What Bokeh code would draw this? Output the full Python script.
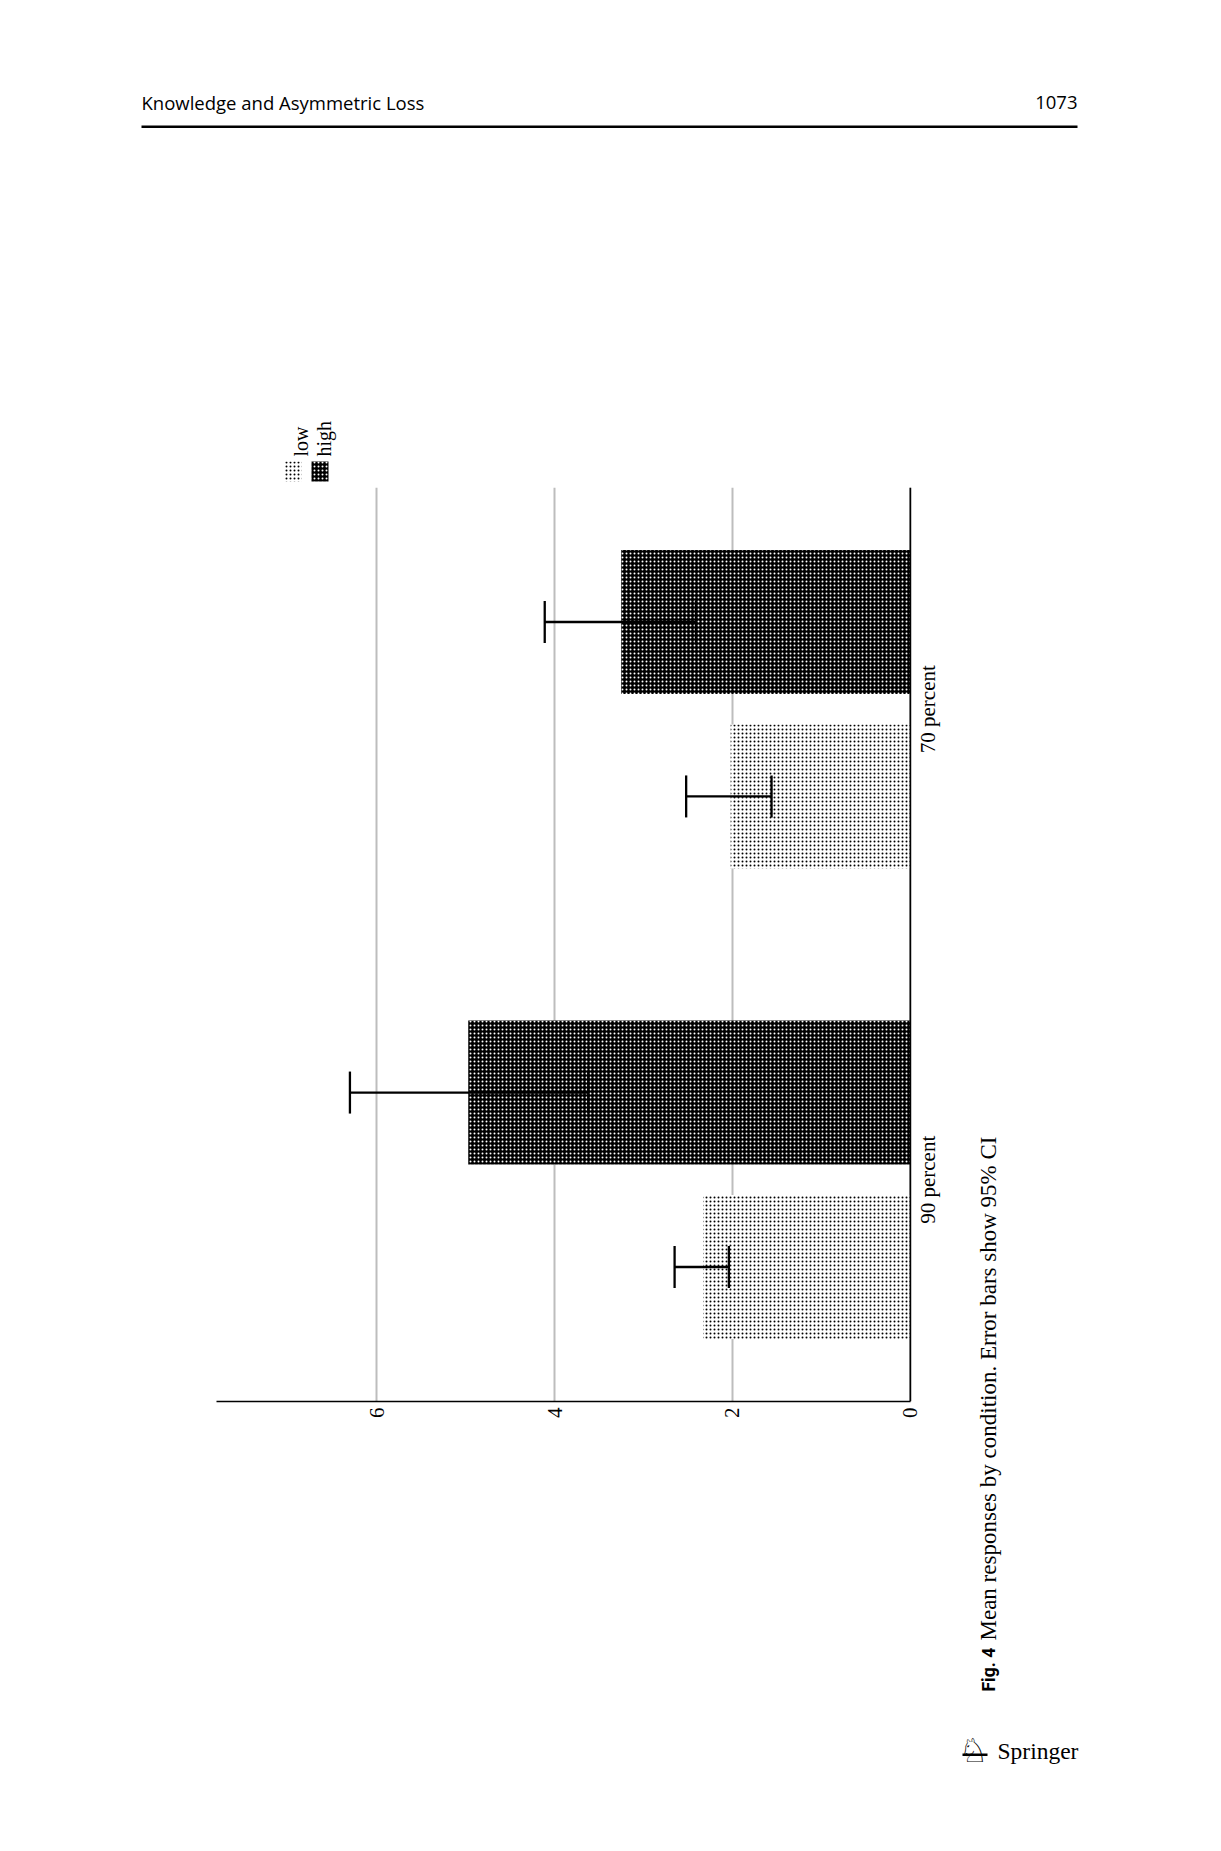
import math
from bokeh.plotting import figure
from bokeh.layouts import column, row
from bokeh.models import (ColumnDataSource, FactorRange, Range1d, FixedTicker, Whisker,
                          TeeHead, Label, LabelSet, BoxAnnotation, Span)
from bokeh.transform import dodge
from bokeh.embed import file_html
from bokeh.resources import INLINE

# ---- data ----
groups = ["90 percent", "70 percent"]
conditions = ["low", "high"]
low_mean = [2.33, 2.02]
high_mean = [4.97, 3.25]
low_lower = [2.04, 1.56]
low_upper = [2.65, 2.52]
high_lower = [3.62, 2.41]
high_upper = [6.30, 4.11]
value_ticks = [0, 2, 4, 6]
value_max = 7.80
header_title = "Knowledge and Asymmetric Loss"
page_number = "1073"
caption_label = "Fig. 4"
caption_text = "Mean responses by condition. Error bars show 95% CI"
publisher = "Springer"

src = ColumnDataSource(dict(group=groups, low=low_mean, high=high_mean,
                            low_lower=low_lower, low_upper=low_upper,
                            high_lower=high_lower, high_upper=high_upper))

SERIF = "Liberation Serif"
OFF = 0.2195
BAR_H = 0.3625


def deco_figure(x0, x1, y0, y1):
    """A blank figure whose data coordinates are page pixels."""
    f = figure(width=x1 - x0, height=y1 - y0, x_range=Range1d(x0, x1),
               y_range=Range1d(y1, y0), x_axis_location=None, y_axis_location=None,
               output_backend="svg", toolbar_location=None, min_border=0)
    f.outline_line_color = None
    f.grid.visible = False
    f.background_fill_color = "white"
    f.border_fill_color = "white"
    return f


def label(f, x, y, text, **kw):
    base = dict(text_align="left", text_baseline="alphabetic", text_color="black")
    base.update(kw)
    f.add_layout(Label(x=x, y=y, text=text, **base))


def box(f, left, right, top, bottom, **kw):
    f.add_layout(BoxAnnotation(left=left, right=right, top=top, bottom=bottom,
                               fill_alpha=1, line_color=None, **kw))


# ---------- top strip: running head + legend ----------
top = deco_figure(8, 1213, 8, 495)
label(top, 149, 110, header_title, text_font="Open Sans", text_font_size="18.5px")
label(top, 1085, 110, page_number, text_font="Open Sans", text_font_size="18.5px",
      text_align="right")
box(top, 149, 1085, 133, 135.5, fill_color="black")

box(top, 292, 309, 469, 489, fill_color="white", hatch_pattern="dot", hatch_color="black",
    hatch_scale=4, hatch_weight=1)
box(top, 319, 336, 469, 489, fill_color="black", hatch_pattern="dot", hatch_color="white",
    hatch_scale=4, hatch_weight=1)
label(top, 308, 464, conditions[0], angle=math.pi / 2, text_font=SERIF,
      text_font_size="20px")
label(top, 331, 464, conditions[1], angle=math.pi / 2, text_font=SERIF,
      text_font_size="20px")

# ---------- chart ----------
p = figure(width=952, height=1348,
           x_range=Range1d(value_max, -0.418),
           y_range=FactorRange(factors=groups, factor_padding=0.18425,
                               range_padding=0.058, range_padding_units="absolute"),
           y_axis_location=None,
           output_backend="svg", toolbar_location=None,
           min_border_left=216, min_border_right=5,
           min_border_top=0, min_border_bottom=434)
p.outline_line_color = None
p.background_fill_color = "white"
p.border_fill_color = "white"

p.hbar(y=dodge("group", -OFF, range=p.y_range), left=0, right="low", height=BAR_H,
       source=src, fill_color="white", line_color=None,
       hatch_pattern="dot", hatch_color="black", hatch_scale=4, hatch_weight=1)
p.hbar(y=dodge("group", OFF, range=p.y_range), left=0, right="high", height=BAR_H,
       source=src, fill_color="black", line_color=None,
       hatch_pattern="dot", hatch_color="white", hatch_scale=4, hatch_weight=1)

for off, lo, up in [(-OFF, "low_lower", "low_upper"), (OFF, "high_lower", "high_upper")]:
    p.add_layout(Whisker(base=dodge("group", off, range=p.y_range), lower=lo, upper=up,
                         dimension="width", source=src, line_color="black", line_width=2.3,
                         upper_head=TeeHead(size=42, line_width=2.3, line_color="black"),
                         lower_head=TeeHead(size=42, line_width=2.3, line_color="black"),
                         level="annotation"))

# baseline (category axis line) at zero
p.add_layout(Span(location=0, dimension="height", line_color="black", line_width=1.6,
                  level="annotation"))

# category labels, centred on each group, reading bottom to top
p.add_layout(LabelSet(x=0, y="group", text="group", source=src, angle=math.pi / 2,
                      x_offset=25, text_align="center", text_baseline="alphabetic",
                      text_font=SERIF, text_font_size="21px", text_color="black"))

p.xaxis.ticker = FixedTicker(ticks=value_ticks)
p.xaxis.bounds = (0, value_max)
p.xaxis.major_label_orientation = math.pi / 2
p.xaxis.major_label_standoff = 6
p.xaxis.major_label_text_font = SERIF
p.xaxis.major_label_text_font_size = "21px"
p.xaxis.major_label_text_color = "black"
p.xaxis.axis_line_color = "black"
p.xaxis.axis_line_width = 1.6
p.xaxis.major_tick_line_color = None
p.xaxis.minor_tick_line_color = None
p.xaxis.major_tick_out = 0
p.xaxis.major_tick_in = 0
p.xaxis.minor_tick_out = 0

p.xgrid.ticker = FixedTicker(ticks=value_ticks)
p.xgrid.grid_line_color = "#bdbdbd"
p.xgrid.grid_line_width = 2
p.ygrid.visible = False

# ---------- right strip: caption + publisher mark ----------
side = deco_figure(960, 1213, 495, 1843)
label(side, 996, 1699, caption_label, angle=math.pi / 2, text_font="Roboto",
      text_font_style="bold", text_font_size="17.5px")
label(side, 996, 1648, caption_text, angle=math.pi / 2, text_font=SERIF,
      text_font_size="23px")
label(side, 966, 1758, "\u2658", text_font="DejaVu Sans", text_font_size="33px")
box(side, 970, 995, 1761, 1763.5, fill_color="black")
label(side, 1005, 1758, publisher, text_font=SERIF, text_font_size="23.5px")

# each plot wrapped in its own column so that the row does not align their frames
layout = column(top, row(column(p), column(side)))
open("out.html", "w").write(file_html(layout, INLINE))
